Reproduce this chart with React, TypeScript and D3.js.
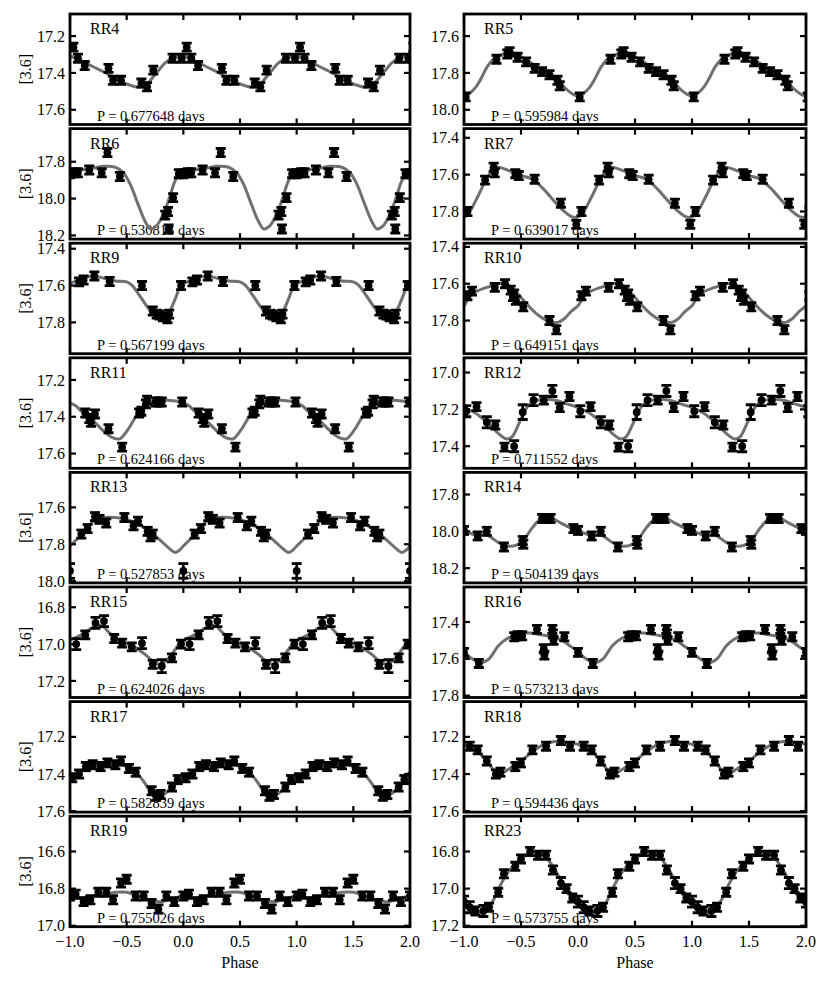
import React from 'react';
import * as d3 from 'd3';

const W = 831, H = 985;

// ---- data: [phase, mag, err?] over one cycle, template curve knots [phase, mag]
const rr4Points = [[0.985,17.32],[0.03,17.26],[0.07,17.32],[0.13,17.36],[0.34,17.375],[0.38,17.44],[0.45,17.44],[0.63,17.455],[0.68,17.475],[0.735,17.385],[0.905,17.32]];
const rr4Curve = [[0.0,17.31],[0.1,17.335],[0.2,17.365],[0.3,17.395],[0.4,17.43],[0.5,17.46],[0.6,17.477],[0.66,17.47],[0.75,17.41],[0.84,17.345],[0.92,17.315]];

const rr5Points = [[0.015,17.93],[0.285,17.726],[0.38,17.697],[0.40,17.685],[0.47,17.715],[0.545,17.74],[0.62,17.775],[0.685,17.793],[0.75,17.81],[0.82,17.84],[0.84,17.87]];
const rr5Curve = [[0.0,17.925],[0.05,17.91],[0.1,17.88],[0.15,17.83],[0.2,17.77],[0.25,17.73],[0.3,17.71],[0.38,17.69],[0.45,17.695],[0.55,17.73],[0.65,17.77],[0.75,17.81],[0.85,17.86],[0.92,17.9],[0.97,17.92]];

const rr6Points = [[0.0,17.865],[0.04,17.86],[0.07,17.86],[0.17,17.845],[0.28,17.86],[0.33,17.75],[0.44,17.88],[0.84,18.09],[0.865,18.07],[0.87,18.165],[0.91,17.995],[0.96,17.865]];
const rr6Curve = [[0.0,17.86],[0.1,17.845],[0.2,17.835],[0.3,17.825],[0.4,17.83],[0.47,17.86],[0.53,17.92],[0.6,18.03],[0.66,18.12],[0.71,18.165],[0.76,18.15],[0.82,18.09],[0.88,17.99],[0.93,17.9],[0.97,17.87]];

const rr7Points = [[0.03,17.8],[0.185,17.63],[0.26,17.56],[0.27,17.59],[0.45,17.595],[0.48,17.605],[0.62,17.625],[0.85,17.755],[0.985,17.87]];
const rr7Curve = [[0.0,17.83],[0.05,17.8],[0.12,17.72],[0.2,17.62],[0.26,17.57],[0.3,17.56],[0.4,17.58],[0.5,17.605],[0.6,17.625],[0.7,17.68],[0.8,17.75],[0.88,17.8],[0.95,17.83]];

const rr9Points = [[0.08,17.58],[0.12,17.57],[0.215,17.548],[0.35,17.578],[0.635,17.60],[0.73,17.738],[0.765,17.755],[0.79,17.76],[0.82,17.77],[0.86,17.78],[0.875,17.755],[0.98,17.60]];
const rr9Curve = [[0.0,17.59],[0.1,17.565],[0.2,17.548],[0.3,17.56],[0.4,17.575],[0.5,17.58],[0.55,17.6],[0.62,17.66],[0.7,17.73],[0.77,17.77],[0.83,17.78],[0.88,17.74],[0.93,17.67],[0.97,17.61]];

const rr10Points = [[0.03,17.665],[0.07,17.64],[0.27,17.62],[0.36,17.60],[0.41,17.635],[0.43,17.67],[0.44,17.655],[0.455,17.69],[0.52,17.725],[0.75,17.80],[0.81,17.85]];
const rr10Curve = [[0.0,17.72],[0.05,17.67],[0.1,17.645],[0.2,17.62],[0.3,17.6],[0.38,17.605],[0.45,17.64],[0.55,17.71],[0.65,17.77],[0.75,17.805],[0.82,17.81],[0.88,17.79],[0.94,17.75]];

const rr11Points = [[0.135,17.38],[0.17,17.41],[0.185,17.43],[0.22,17.385],[0.34,17.465],[0.46,17.565],[0.61,17.38],[0.63,17.37],[0.67,17.33],[0.68,17.31],[0.755,17.32],[0.78,17.32],[0.81,17.32],[0.99,17.32]];
const rr11Curve = [[0.0,17.325],[0.05,17.34],[0.1,17.37],[0.2,17.42],[0.3,17.48],[0.38,17.515],[0.44,17.52],[0.5,17.48],[0.56,17.42],[0.62,17.36],[0.68,17.33],[0.75,17.315],[0.85,17.31],[0.93,17.315]];

const rr12Points = [[0.02,17.21,0.03],[0.11,17.185],[0.2,17.27,0.03],[0.275,17.285],[0.355,17.405],[0.44,17.40,0.03],[0.515,17.215,0.04],[0.61,17.15,0.03],[0.70,17.15],[0.775,17.10,0.03],[0.84,17.19],[0.925,17.13]];
const rr12Curve = [[0.0,17.19],[0.1,17.22],[0.2,17.27],[0.3,17.33],[0.37,17.36],[0.42,17.35],[0.48,17.28],[0.54,17.2],[0.6,17.16],[0.7,17.145],[0.8,17.15],[0.9,17.17]];

const rr13Points = [[0.0,17.945,0.04],[0.1,17.745],[0.155,17.715],[0.22,17.65],[0.26,17.665],[0.32,17.685],[0.48,17.655],[0.56,17.70],[0.6,17.675],[0.685,17.73],[0.71,17.76],[0.73,17.745]];
const rr13Curve = [[0.0,17.81],[0.05,17.78],[0.1,17.75],[0.15,17.71],[0.22,17.67],[0.3,17.655],[0.4,17.655],[0.5,17.665],[0.6,17.69],[0.7,17.73],[0.8,17.78],[0.87,17.82],[0.93,17.845],[0.97,17.83]];

const rr14Points = [[0.0,17.995],[0.12,18.025],[0.2,18.0],[0.35,18.085],[0.515,18.05],[0.52,18.07],[0.685,17.93],[0.74,17.93],[0.76,17.93],[0.96,17.985]];
const rr14Curve = [[0.0,17.995],[0.1,18.02],[0.2,18.02],[0.3,18.06],[0.38,18.08],[0.46,18.075],[0.53,18.04],[0.6,17.98],[0.67,17.935],[0.75,17.925],[0.85,17.955],[0.93,17.98]];

const rr15Points = [[0.055,17.0,0.03],[0.135,16.95],[0.225,16.885,0.03],[0.3,16.875,0.03],[0.39,16.97],[0.46,16.995],[0.545,17.015],[0.635,16.995,0.03],[0.73,17.11],[0.81,17.12,0.035],[0.9,17.075],[0.98,17.0]];
const rr15Curve = [[0.0,16.98],[0.1,16.95],[0.2,16.91],[0.28,16.9],[0.35,16.94],[0.45,16.985],[0.55,17.01],[0.65,17.05],[0.75,17.1],[0.8,17.11],[0.88,17.07],[0.95,17.01]];

const rr16Points = [[0.0,17.565],[0.13,17.625],[0.44,17.48],[0.47,17.475],[0.51,17.475],[0.64,17.44],[0.70,17.545],[0.705,17.58],[0.775,17.44],[0.78,17.465],[0.785,17.5],[0.88,17.48]];
const rr16Curve = [[0.0,17.56],[0.07,17.6],[0.15,17.62],[0.22,17.6],[0.3,17.53],[0.38,17.49],[0.48,17.465],[0.58,17.46],[0.68,17.47],[0.78,17.48],[0.86,17.5],[0.93,17.53]];

const rr17Points = [[0.02,17.42],[0.08,17.40],[0.14,17.36],[0.2,17.35],[0.27,17.36],[0.33,17.34],[0.4,17.35],[0.45,17.33],[0.52,17.37],[0.58,17.39],[0.72,17.49],[0.76,17.52],[0.8,17.51],[0.9,17.47],[0.95,17.43]];
const rr17Curve = [[0.0,17.42],[0.1,17.38],[0.2,17.355],[0.3,17.345],[0.4,17.345],[0.5,17.36],[0.58,17.39],[0.65,17.44],[0.72,17.5],[0.78,17.52],[0.85,17.5],[0.92,17.46]];

const rr18Points = [[0.05,17.25],[0.12,17.27],[0.2,17.33],[0.28,17.4],[0.32,17.39],[0.45,17.36],[0.5,17.34],[0.6,17.27],[0.72,17.25],[0.85,17.22],[0.93,17.25]];
const rr18Curve = [[0.0,17.24],[0.1,17.27],[0.2,17.33],[0.28,17.39],[0.33,17.395],[0.4,17.37],[0.5,17.33],[0.6,17.28],[0.7,17.24],[0.8,17.225],[0.9,17.23]];

const rr19Points = [[0.0,16.84],[0.05,16.83],[0.12,16.87],[0.18,16.86],[0.25,16.82],[0.32,16.82],[0.38,16.86],[0.45,16.77],[0.5,16.75],[0.58,16.84],[0.65,16.84],[0.72,16.88],[0.78,16.91],[0.85,16.84],[0.92,16.87]];
const rr19Curve = [[0.0,16.84],[0.1,16.85],[0.2,16.84],[0.3,16.83],[0.4,16.82],[0.5,16.82],[0.6,16.84],[0.7,16.86],[0.8,16.87],[0.9,16.855]];

const rr23Points = [[0.0,17.07,0.03],[0.05,17.1,0.03],[0.1,17.12],[0.17,17.12,0.03],[0.22,17.1],[0.3,17.02],[0.35,16.92],[0.45,16.88],[0.5,16.84],[0.58,16.8],[0.65,16.82],[0.72,16.82],[0.78,16.9],[0.85,16.97,0.03],[0.9,17.0],[0.95,17.05]];
const rr23Curve = [[0.0,17.08],[0.1,17.12],[0.18,17.12],[0.25,17.07],[0.32,16.98],[0.4,16.9],[0.5,16.84],[0.6,16.8],[0.7,16.82],[0.8,16.9],[0.88,16.99],[0.95,17.05]];

const names = ['RR4','RR5','RR6','RR7','RR9','RR10','RR11','RR12','RR13','RR14','RR15','RR16','RR17','RR18','RR19','RR23'];
const periods = ['0.677648','0.595984','0.530813','0.639017','0.567199','0.649151','0.624166','0.711552','0.527853','0.504139','0.624026','0.573213','0.582839','0.594436','0.755026','0.573755'];
const magRanges = [[17.08,17.68],[17.48,18.08],[17.62,18.22],[17.35,17.95],[17.37,17.97],[17.38,17.98],[17.08,17.68],[16.92,17.52],[17.41,18.01],[17.68,18.28],[16.69,17.29],[17.21,17.81],[17.01,17.605],[17.01,17.605],[16.41,17.005],[16.61,17.205]];
const pointSets = [rr4Points,rr5Points,rr6Points,rr7Points,rr9Points,rr10Points,rr11Points,rr12Points,rr13Points,rr14Points,rr15Points,rr16Points,rr17Points,rr18Points,rr19Points,rr23Points];
const curveSets = [rr4Curve,rr5Curve,rr6Curve,rr7Curve,rr9Curve,rr10Curve,rr11Curve,rr12Curve,rr13Curve,rr14Curve,rr15Curve,rr16Curve,rr17Curve,rr18Curve,rr19Curve,rr23Curve];

const phaseTicks = [-1, -0.5, 0, 0.5, 1, 1.5, 2];
const phaseLabels = ['\u22121.0','\u22120.5','0.0','0.5','1.0','1.5','2.0'];

const colX = [[70, 410], [464, 806]];
const top0 = 14, rowStep = 114.6, panelH = 110.5;
const font = '"Liberation Serif", "DejaVu Serif", serif';

function Panel({ idx, x0, x1, y0, showX, showYLabel }) {
  const y1 = y0 + panelH;
  const x = d3.scaleLinear().domain([-1, 2]).range([x0, x1]);
  const y = d3.scaleLinear().domain(magRanges[idx]).range([y0, y1]);
  const [lo, hi] = magRanges[idx];
  const yTicks = d3.range(Math.ceil(lo / 0.2 - 1e-6), Math.floor(hi / 0.2 + 1e-6) + 1).map(k => k * 0.2);

  const knots = [];
  for (let k = -2; k <= 2; k++) curveSets[idx].forEach(([p, m]) => knots.push([p + k, m]));
  knots.sort((a, b) => a[0] - b[0]);
  const line = d3.line().x(d => x(d[0])).y(d => y(d[1])).curve(d3.curveCatmullRom.alpha(0.5));
  const path = line(knots.filter(d => d[0] > -1.4 && d[0] < 2.4));

  const pts = [];
  for (let k = -1; k <= 2; k++) pointSets[idx].forEach(([p, m, e]) => {
    const q = p + k;
    if (q >= -1.03 && q <= 2.03) pts.push([q, m, e || 0.022]);
  });
  const clipId = 'clip' + idx;

  return (
    <g>
      <defs>
        <clipPath id={clipId}><rect x={x0} y={y0} width={x1 - x0} height={y1 - y0} /></clipPath>
      </defs>
      <text x={x0 + 20} y={y0 + 20} fontSize={16} fontFamily={font}>{names[idx]}</text>
      <text x={x0 + 27} y={y1 - 4} fontSize={14.5} fontFamily={font}>{`P = ${periods[idx]} days`}</text>
      <g clipPath={`url(#${clipId})`}>
        <path d={path} fill="none" stroke="#707070" strokeWidth={3} />
        {pts.map(([q, m, e], i) => (
          <g key={i}>
            <line x1={x(q)} x2={x(q)} y1={y(m - e)} y2={y(m + e)} stroke="#000" strokeWidth={2.6} />
            <line x1={x(q) - 5} x2={x(q) + 5} y1={y(m - e)} y2={y(m - e)} stroke="#000" strokeWidth={2.8} />
            <line x1={x(q) - 5} x2={x(q) + 5} y1={y(m + e)} y2={y(m + e)} stroke="#000" strokeWidth={2.8} />
            <circle cx={x(q)} cy={y(m)} r={3.9} fill="#000" />
          </g>
        ))}
      </g>
      {phaseTicks.map(t => (
        <g key={'xt' + t}>
          <line x1={x(t)} x2={x(t)} y1={y0} y2={y0 + 6} stroke="#000" strokeWidth={2.2} />
          <line x1={x(t)} x2={x(t)} y1={y1} y2={y1 - 6} stroke="#000" strokeWidth={2.2} />
        </g>
      ))}
      {yTicks.map(t => (
        <g key={'yt' + t}>
          <line x1={x0} x2={x0 + 6} y1={y(t)} y2={y(t)} stroke="#000" strokeWidth={2.2} />
          <line x1={x1} x2={x1 - 6} y1={y(t)} y2={y(t)} stroke="#000" strokeWidth={2.2} />
          <text x={x0 - 5} y={y(t)} dy="0.35em" textAnchor="end" fontSize={16} fontFamily={font}>{t.toFixed(1)}</text>
        </g>
      ))}
      <rect x={x0} y={y0} width={x1 - x0} height={y1 - y0} fill="none" stroke="#000" strokeWidth={2.8} />
      {showX && phaseTicks.map((t, i) => (
        <text key={'xl' + t} x={x(t)} y={y1 + 20} textAnchor="middle" fontSize={16} fontFamily={font}>{phaseLabels[i]}</text>
      ))}
      {showYLabel && (
        <text transform={`translate(25,${(y0 + y1) / 2}) rotate(-90)`} dy="0.35em" textAnchor="middle" fontSize={16} fontFamily={font}>[3.6]</text>
      )}
    </g>
  );
}

export default function App() {
  return (
    <svg width={W} height={H} style={{ position: 'absolute', left: 0, top: 0, background: '#fff' }}>
      {names.map((n, i) => {
        const col = i % 2, row = Math.floor(i / 2);
        const [x0, x1] = colX[col];
        return <Panel key={n} idx={i} x0={x0} x1={x1} y0={top0 + row * rowStep} showX={row === 7} showYLabel={col === 0} />;
      })}
      {colX.map(([a, b], i) => (
        <text key={'ph' + i} x={(a + b) / 2} y={968} textAnchor="middle" fontSize={16} fontFamily={font}>Phase</text>
      ))}
    </svg>
  );
}
